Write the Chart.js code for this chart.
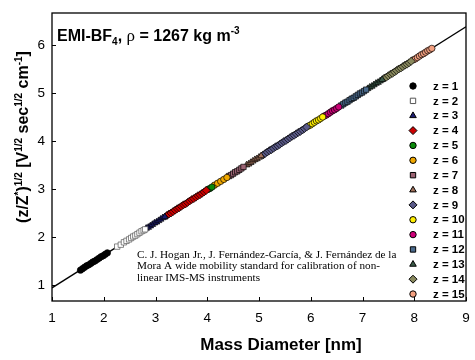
<!DOCTYPE html>
<html><head><meta charset="utf-8">
<script src="https://cdn.jsdelivr.net/npm/chart.js@4.4.1/dist/chart.umd.min.js"></script>
<style>html,body{margin:0;padding:0;background:#fff;}#wrap{width:475px;height:360px;}</style>
</head><body><div id="wrap"><canvas id="c" width="475" height="360"></canvas></div>
<script>
const xTicks=[1,2,3,4,5,6,7,8,9];
const yTicks=[1,2,3,4,5,6];
const seriesLabels=['z = 1','z = 2','z = 3','z = 4','z = 5','z = 6','z = 7','z = 8','z = 9','z = 10','z = 11','z = 12','z = 13','z = 14','z = 15'];
const d1=[1.55,1.59,1.63,1.67,1.71,1.75,1.79,1.83,1.87,1.91,1.95,1.99,2.03,2.07];
const v1=[1.31,1.34,1.37,1.40,1.42,1.45,1.48,1.50,1.53,1.56,1.59,1.61,1.64,1.67];
const d2=[2.26,2.33,2.39,2.44,2.49,2.53,2.57,2.61,2.65,2.69,2.73,2.77,2.80];
const v2=[1.80,1.84,1.89,1.92,1.95,1.98,2.01,2.03,2.06,2.09,2.12,2.14,2.16];
const d3=[2.82,2.86,2.90,2.94,2.98,3.02,3.06,3.10,3.14,3.18];
const v3=[2.18,2.20,2.23,2.26,2.29,2.31,2.34,2.37,2.40,2.42];
const d4=[3.22,3.26,3.30,3.34,3.38,3.42,3.46,3.50,3.54,3.58,3.62,3.66,3.70,3.74,3.78,3.82,3.86,3.90,3.94,3.98];
const v4=[2.45,2.48,2.50,2.53,2.56,2.59,2.61,2.64,2.67,2.69,2.72,2.75,2.78,2.80,2.83,2.86,2.88,2.91,2.94,2.97];
const d5=[4.01,4.05,4.09];
const v5=[2.99,3.01,3.04];
const d6=[4.14,4.20,4.26,4.32,4.38];
const v6=[3.08,3.12,3.16,3.20,3.24];
const d7=[4.42,4.46,4.50,4.54,4.58,4.62,4.66,4.70];
const v7=[3.27,3.29,3.32,3.35,3.37,3.40,3.43,3.46];
const d8=[4.76,4.80,4.84,4.88,4.92,4.96,5.00,5.04];
const v8=[3.50,3.52,3.55,3.58,3.61,3.63,3.66,3.69];
const d9=[5.08,5.12,5.16,5.20,5.24,5.28,5.32,5.36,5.40,5.44,5.48,5.52,5.56,5.60,5.64,5.68,5.72,5.76,5.80,5.84,5.88,5.92];
const v9=[3.71,3.74,3.77,3.80,3.82,3.85,3.88,3.90,3.93,3.96,3.99,4.01,4.04,4.07,4.10,4.12,4.15,4.18,4.20,4.23,4.26,4.29];
const d10=[5.95,5.99,6.03,6.07,6.11,6.15,6.19,6.23];
const v10=[4.31,4.33,4.36,4.39,4.42,4.44,4.47,4.50];
const d11=[6.26,6.30,6.34,6.38,6.42,6.46,6.50,6.54];
const v11=[4.52,4.54,4.57,4.60,4.63,4.65,4.68,4.71];
const d12=[6.59,6.63,6.67,6.71,6.75,6.79,6.83,6.87,6.91,6.95,6.99,7.03,7.07];
const v12=[4.74,4.77,4.80,4.82,4.85,4.88,4.90,4.93,4.96,4.99,5.01,5.04,5.07];
const d13=[7.10,7.14,7.18,7.22,7.26,7.30,7.34,7.38];
const v13=[5.09,5.12,5.14,5.17,5.20,5.22,5.25,5.28];
const d14=[7.42,7.46,7.50,7.54,7.58,7.62,7.66,7.70,7.74,7.78,7.82,7.86,7.90,7.94];
const v14=[5.31,5.33,5.36,5.39,5.41,5.44,5.47,5.50,5.52,5.55,5.58,5.60,5.63,5.66];
const d15=[7.98,8.02,8.06,8.10,8.14,8.18,8.22,8.26,8.30,8.34];
const v15=[5.69,5.71,5.74,5.77,5.80,5.82,5.85,5.88,5.90,5.93];
const fitD=[1,9];
const fitV=[0.94,6.38];

const allD=[d1,d2,d3,d4,d5,d6,d7,d8,d9,d10,d11,d12,d13,d14,d15];
const allV=[v1,v2,v3,v4,v5,v6,v7,v8,v9,v10,v11,v12,v13,v14,v15];
const fills=['#000000','#ffffff','#1c1c70','#cc0000','#0a8a0a','#f0a800','#9a6272','#a0705a','#5a5a88','#ffee00','#cc0077','#4a6a8c','#3a5a48','#8a8a5e','#f4a080'];
const edges=['#000000','#555555','#000000','#000000','#000000','#000000','#000000','#000000','#000000','#000000','#000000','#000000','#000000','#000000','#000000'];
const shapes=['circle','rect','triangle','rectRot','circle','circle','rect','triangle','rectRot','circle','circle','rect','triangle','rectRot','circle'];
const sizes={circle:3.2,rect:3.8,triangle:3.8,rectRot:4};

const datasets=allD.map((d,i)=>({
  label:seriesLabels[i],
  data:d.map((x,j)=>({x:x,y:allV[i][j]})),
  pointStyle:shapes[i],pointRadius:sizes[shapes[i]],
  backgroundColor:fills[i],borderColor:edges[i],borderWidth:0.7,
  showLine:false,order:1
}));
datasets.push({label:'fit',data:fitD.map((x,j)=>({x:x,y:fitV[j]})),showLine:true,
  borderColor:'#000',borderWidth:1.4,pointRadius:0,order:100});

function richText(ctx,segs,x,y,align,mainFont,smallFont,supDy,subDy){
  let w=0;
  segs.forEach(s=>{ctx.font=s[1]===0?(s[2]||mainFont):smallFont;w+=ctx.measureText(s[0]).width;});
  let cx=align==='center'?x-w/2:x;
  ctx.textBaseline='alphabetic';ctx.textAlign='left';
  segs.forEach(s=>{
    ctx.font=s[1]===0?(s[2]||mainFont):smallFont;
    const dy=s[1]===1?-supDy:(s[1]===-1?subDy:0);
    ctx.fillText(s[0],cx,y+dy);
    cx+=ctx.measureText(s[0]).width;
  });
}

const deco={
  id:'deco',
  afterDraw(chart){
    const ctx=chart.ctx,a=chart.chartArea,xs=chart.scales.x,ys=chart.scales.y;
    ctx.save();
    ctx.fillStyle='#000';ctx.strokeStyle='#000';
    // citation box
    ctx.fillStyle='#fff';ctx.fillRect(134,245,266,40);
    ctx.fillStyle='#000';
    ctx.font='11.2px "Liberation Serif","Times New Roman",serif';
    ctx.textAlign='left';ctx.textBaseline='alphabetic';
    ctx.fillText('C. J. Hogan Jr., J. Fernández-García, & J. Fernández de la',137,257.5);
    ctx.fillText('Mora A wide mobility standard for calibration of non-',137,269);
    ctx.fillText('linear IMS-MS instruments',137,280.5);
    // border
    ctx.lineWidth=1.3;
    ctx.strokeRect(a.left,a.top,a.right-a.left,a.bottom-a.top);
    // inner ticks
    ctx.lineWidth=1;
    ctx.beginPath();
    xTicks.forEach(v=>{const p=Math.round(xs.getPixelForValue(v))+0.5;ctx.moveTo(p,a.bottom);ctx.lineTo(p,a.bottom-4);});
    yTicks.forEach(v=>{const p=Math.round(ys.getPixelForValue(v))+0.5;ctx.moveTo(a.left,p);ctx.lineTo(a.left+4,p);});
    ctx.stroke();
    // title
    ctx.fillStyle='#000';
    richText(ctx,[['EMI-BF',0],['4',-1],[', ',0],['ρ',0,'17px "Liberation Serif",serif'],[' = 1267 kg m',0],['-3',1]],57,41,'left','bold 16px "Liberation Sans",Arial,sans-serif','bold 10px "Liberation Sans",Arial,sans-serif',7,4);
    // x title
    ctx.font='bold 17px "Liberation Sans",Arial,sans-serif';
    ctx.textAlign='center';
    ctx.fillText('Mass Diameter [nm]',281,350);
    // y title
    ctx.save();
    ctx.translate(28,137);ctx.rotate(-Math.PI/2);
    richText(ctx,[['(z/Z',0],['*',1],[')',0],['1/2',1],[' [V',0],['1/2',1],[' sec',0],['1/2',1],[' cm',0],['-1',1],[']',0]],0,0,'center','bold 16px "Liberation Sans",Arial,sans-serif','bold 10px "Liberation Sans",Arial,sans-serif',6,4);
    ctx.restore();
    // legend
    seriesLabels.forEach((lab,i)=>{
      const y=86+i*14.86;
      ctx.fillStyle=fills[i];ctx.strokeStyle=edges[i];
      Chart.helpers.drawPoint(ctx,{pointStyle:shapes[i],radius:sizes[shapes[i]],borderWidth:0.7,rotation:0},413,y);
      ctx.fillStyle='#000';
      ctx.font='bold 11.5px "Liberation Sans",Arial,sans-serif';
      ctx.textAlign='left';ctx.textBaseline='middle';
      ctx.fillText(lab,433,y+0.5);
    });
    ctx.restore();
  }
};

new Chart(document.getElementById('c'),{
  type:'scatter',
  data:{datasets:datasets},
  options:{
    responsive:false,animation:false,devicePixelRatio:1,
    layout:{padding:{top:13,right:9,left:0,bottom:0}},
    plugins:{legend:{display:false},tooltip:{enabled:false},title:{display:false}},
    scales:{
      x:{type:'linear',min:1,max:9,
        afterBuildTicks:s=>{s.ticks=xTicks.map(v=>({value:v}));},
        afterFit:s=>{s.height=59;s.paddingRight=0;s.paddingLeft=0;},
        ticks:{font:{family:'"Liberation Sans",Arial,sans-serif',size:13.5},color:'#000',padding:9,maxRotation:0,autoSkip:false},
        grid:{drawOnChartArea:false,drawTicks:false},border:{display:false}},
      y:{type:'linear',min:0.667,max:6.667,
        afterBuildTicks:s=>{s.ticks=yTicks.map(v=>({value:v}));},
        afterFit:s=>{s.width=52;s.paddingTop=0;s.paddingBottom=0;},
        ticks:{font:{family:'"Liberation Sans",Arial,sans-serif',size:13.5},color:'#000',padding:7},
        grid:{drawOnChartArea:false,drawTicks:false},border:{display:false}}
    }
  },
  plugins:[deco]
});
</script></body></html>
